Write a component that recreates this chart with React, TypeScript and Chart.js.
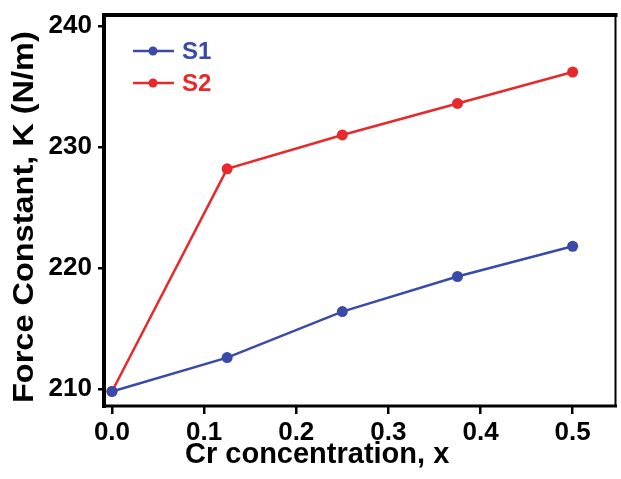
import React, { useEffect, useRef } from "react";
import { Chart, registerables } from "chart.js";

Chart.register(...registerables);

const xValues = [0, 0.125, 0.25, 0.375, 0.5];
const s1Values = [209.8, 212.6, 216.4, 219.3, 221.8];
const s2Values = [209.8, 228.2, 231.0, 233.6, 236.2];
const xTicks = [0, 0.1, 0.2, 0.3, 0.4, 0.5];
const yTicks = [210, 220, 230, 240];
const seriesNames = ["S1", "S2"];
const xTitle = "Cr concentration, x";
const yTitle = "Force Constant, K (N/m)";

const BLUE = "#3a4aa8";
const RED = "#e8292b";
const FONT = "'Liberation Sans', Arial, sans-serif";

const framePlugin = {
  id: "frameAndLegend",
  afterDraw(chart: any) {
    const { ctx, chartArea } = chart;
    const { left, right, top, bottom } = chartArea;
    ctx.save();
    ctx.strokeStyle = "#000";
    ctx.lineCap = "square";
    ctx.lineWidth = 4;
    ctx.beginPath();
    ctx.moveTo(left, bottom);
    ctx.lineTo(left, top);
    ctx.lineTo(right, top);
    ctx.stroke();
    ctx.lineWidth = 2;
    ctx.beginPath();
    ctx.moveTo(right, top);
    ctx.lineTo(right, bottom);
    ctx.stroke();
    ctx.lineWidth = 3;
    ctx.beginPath();
    ctx.moveTo(left, bottom);
    ctx.lineTo(right, bottom);
    ctx.stroke();

    // legend
    const items = chart.data.datasets;
    items.forEach((ds: any, i: number) => {
      const y = top + 36 + i * 32;
      const x0 = left + 29;
      ctx.strokeStyle = ds.borderColor;
      ctx.lineWidth = 2.5;
      ctx.lineCap = "butt";
      ctx.beginPath();
      ctx.moveTo(x0, y);
      ctx.lineTo(x0 + 41, y);
      ctx.stroke();
      ctx.fillStyle = ds.backgroundColor;
      ctx.beginPath();
      ctx.arc(x0 + 20, y, 4.5, 0, Math.PI * 2);
      ctx.fill();
      ctx.font = `bold 24px ${FONT}`;
      ctx.textAlign = "left";
      ctx.textBaseline = "alphabetic";
      ctx.fillText(ds.label, x0 + 49, y + 8);
    });

    // axis titles
    ctx.fillStyle = "#000";
    ctx.font = `bold 29px ${FONT}`;
    ctx.textAlign = "left";
    ctx.textBaseline = "alphabetic";
    ctx.fillText(xTitle, 185, 463);
    ctx.translate(33, 403);
    ctx.rotate(-Math.PI / 2);
    ctx.scale(1.12, 1);
    ctx.fillText(yTitle, 0, 0);
    ctx.restore();
  },
};

export default function App() {
  const ref = useRef<HTMLCanvasElement>(null);
  useEffect(() => {
    document.body.style.margin = "0";
    const chart = new Chart(ref.current!, {
      type: "line",
      data: {
        datasets: [
          {
            label: seriesNames[0],
            data: xValues.map((x, i) => ({ x, y: s1Values[i] })),
            borderColor: BLUE,
            backgroundColor: BLUE,
            borderWidth: 2.5,
            pointRadius: 5.5,
            pointBorderWidth: 0,
          },
          {
            label: seriesNames[1],
            data: xValues.map((x, i) => ({ x, y: s2Values[i] })),
            borderColor: RED,
            backgroundColor: RED,
            borderWidth: 2.5,
            pointRadius: 5.5,
            pointBorderWidth: 0,
          },
        ],
      },
      options: {
        animation: false,
        responsive: false,
        layout: { padding: { top: 15, right: 4, left: 0, bottom: 0 } },
        plugins: { legend: { display: false }, tooltip: { enabled: false } },
        scales: {
          x: {
            type: "linear",
            min: -0.00866,
            max: 0.5465,
            afterBuildTicks(axis: any) {
              axis.ticks = xTicks.map((v) => ({ value: v }));
            },
            afterFit(axis: any) {
              axis.height = 73;
              axis.paddingLeft = 0;
              axis.paddingRight = 0;
            },
            ticks: {
              color: "#000",
              font: { family: FONT, weight: "bold", size: 26 },
              padding: 3,
              maxRotation: 0,
              callback: (v: any) => Number(v).toFixed(1),
            },
            grid: { drawOnChartArea: false, color: "#000", lineWidth: 2.5, tickLength: 8 },
            border: { display: false },
          },
          y: {
            min: 208.6,
            max: 240.91,
            afterBuildTicks(axis: any) {
              axis.ticks = yTicks.map((v) => ({ value: v }));
            },
            afterFit(axis: any) {
              axis.width = 104;
              axis.paddingTop = 0;
              axis.paddingBottom = 0;
            },
            ticks: {
              color: "#000",
              font: { family: FONT, weight: "bold", size: 26 },
              padding: 6,
              callback: (v: any) => String(v),
            },
            grid: { drawOnChartArea: false, color: "#000", lineWidth: 2.5, tickLength: 6 },
            border: { display: false },
          },
        },
      },
      plugins: [framePlugin],
    });
    return () => chart.destroy();
  }, []);
  return (
    <div style={{ width: 621, height: 479 }}>
      <canvas ref={ref} width={621} height={479} />
    </div>
  );
}
